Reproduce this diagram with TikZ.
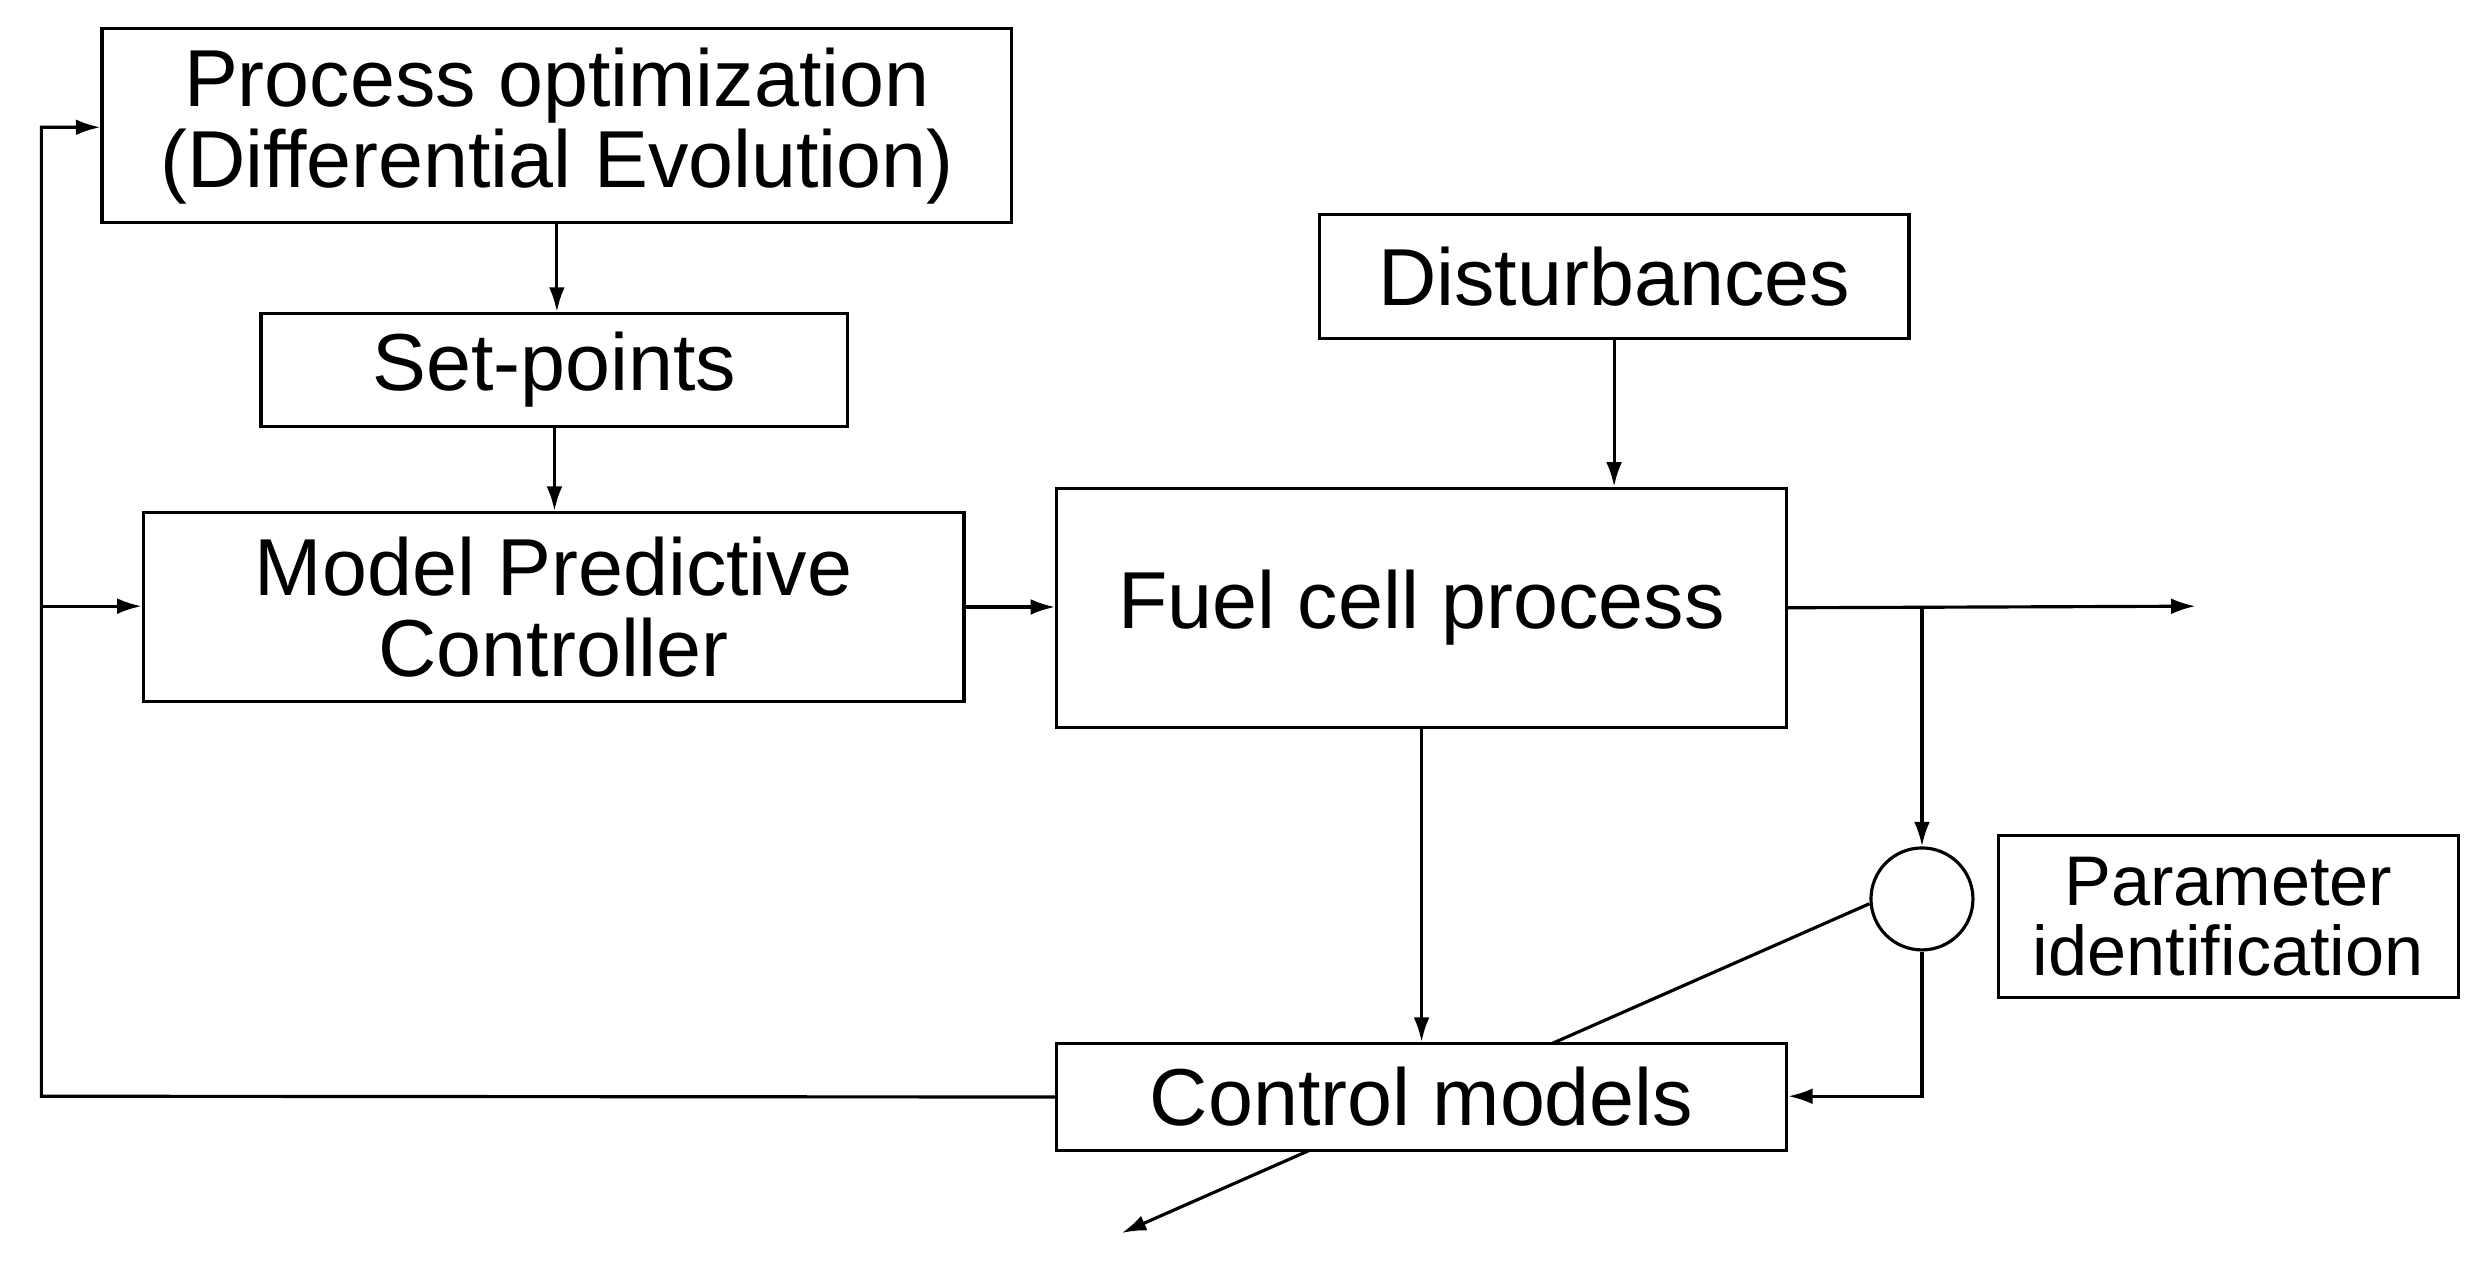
\documentclass[tikz,border=0pt]{standalone}
\usepackage{fontspec}
\setmainfont{Liberation Sans}
\usetikzlibrary{arrows.meta}
\begin{document}
\begin{tikzpicture}[x=0.01591cm,y=-0.01591cm,
  box/.style={draw,line width=0.9pt,fill=white,inner sep=0pt,align=center,font=\fontsize{23}{23}\selectfont},
  con/.style={line width=0.9pt},
  arr/.style={con,-{Latex[length=7pt,width=4.5pt]}}]
\useasboundingbox (0,0) rectangle (1560,798);
% diagonal line first (passes behind control models box)
\coordinate (dstart) at (1175,568);
\coordinate (dend) at (705,775);
\draw[arr] (dstart) -- (dend);
\node[box,minimum width=9.10cm,minimum height=1.94cm] (po) at (350,79) {Process optimization\\(Differential Evolution)};
\node[box,minimum width=5.87cm,minimum height=1.13cm] (sp) at (348.5,232.5) {Set-points};
\node[box,minimum width=8.21cm,minimum height=1.89cm] (mpc) at (348,381.5) {Model Predictive\\Controller};
\node[box,minimum width=5.90cm,minimum height=1.24cm] (dist) at (1014.5,174) {Disturbances};
\node[box,minimum width=7.30cm,minimum height=2.39cm] (fc) at (893.5,382) {Fuel cell process};
\node[box,minimum width=7.30cm,minimum height=1.07cm] (cm) at (893.5,689.5) {Control models};
\node[box,minimum width=4.60cm,minimum height=1.62cm,font=\fontsize{20}{20}\selectfont] (pi) at (1400.5,576) {Parameter\\identification};
\node[draw,line width=0.9pt,circle,minimum size=1.02cm,inner sep=0pt] (c) at (1208,565) {};
\coordinate (out) at (1380,381);
\coordinate (br) at (1208,381);
\coordinate (cr) at (1208,689);
\coordinate (l1) at (26,689);
\coordinate (l2) at (26,80);
\coordinate (lb) at (26,381);
\draw[arr] (po.south) -- (po.south |- sp.north);
\draw[arr] (sp.south) -- (sp.south |- mpc.north);
\draw[arr] (mpc.east) -- (mpc.east -| fc.west);
\draw[arr] (dist.south) -- (dist.south |- fc.north);
\draw[arr] (fc.east) -- (out);
\draw[arr] (br) -- (c.north);
\draw[arr] (c.south) -- (cr) -- (cr -| cm.east);
\draw[arr] (fc.south) -- (cm.north);
\draw[arr] (cm.west) -- (l1) -- (l2) -- (l2 -| po.west);
\draw[arr] (lb) -- (lb -| mpc.west);
\end{tikzpicture}
\end{document}
